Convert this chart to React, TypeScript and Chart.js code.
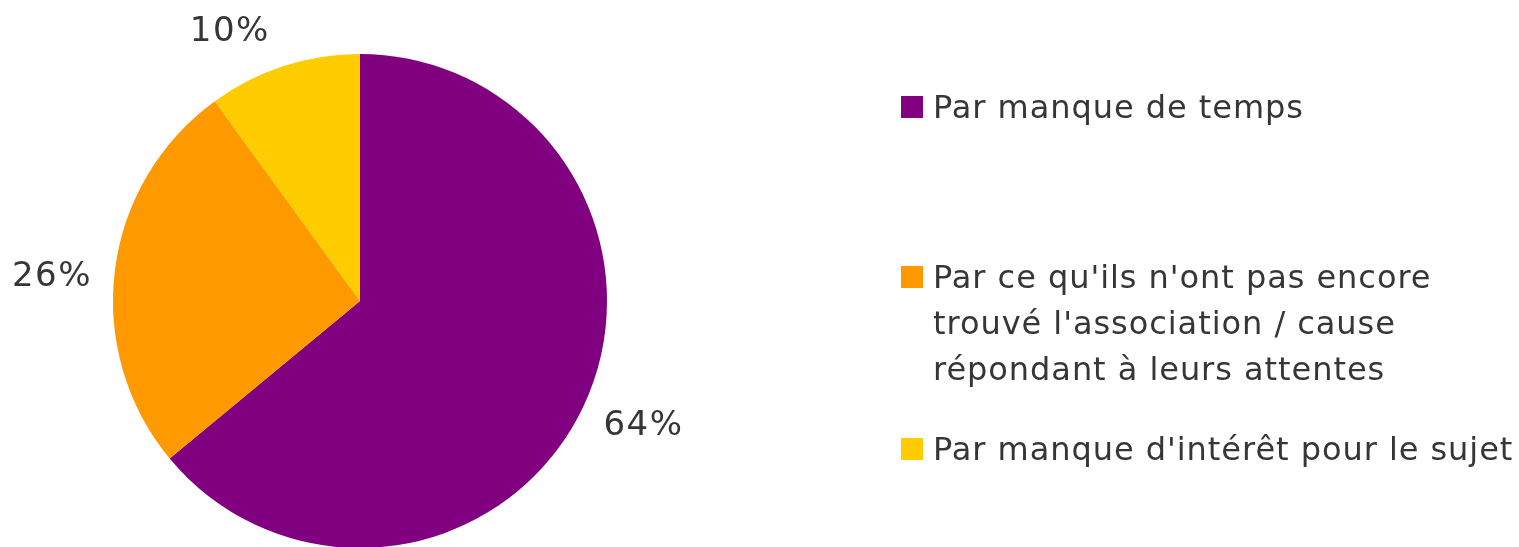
import React, { useEffect, useRef } from "react";
import { Chart, registerables } from "chart.js";

Chart.register(...registerables);

const categories: string[][] = [
  ["Par manque de temps"],
  ["Par ce qu'ils n'ont pas encore", "trouvé l'association / cause", "répondant à leurs attentes"],
  ["Par manque d'intérêt pour le sujet"],
];
const values: number[] = [64, 26, 10];
const percentLabels: string[] = ["64%", "26%", "10%"];
const colors: string[] = ["#800080", "#FF9900", "#FFCC00"];

const FONT = "'DejaVu Sans', Verdana, sans-serif";
const TEXT_COLOR = "#363636";

// label placement style: [angle nudge in degrees, radial gap beyond the arc in px]
const labelPlacement: [number, number][] = [
  [-1.3, 63],
  [-2.7, 62],
  [-7.8, 52],
];

const outsideLabels = {
  id: "outsideLabels",
  afterDatasetsDraw(chart: any) {
    const ctx = chart.ctx;
    const meta = chart.getDatasetMeta(0);
    ctx.save();
    ctx.font = `34px ${FONT}`;
    try {
      (ctx as any).letterSpacing = "1.5px";
    } catch (e) {}
    ctx.fillStyle = TEXT_COLOR;
    ctx.textAlign = "center";
    ctx.textBaseline = "middle";
    meta.data.forEach((arc: any, i: number) => {
      const { x, y, startAngle, endAngle, outerRadius } = arc.getProps(
        ["x", "y", "startAngle", "endAngle", "outerRadius"],
        true
      );
      const [nudge, gap] = labelPlacement[i];
      const mid = (startAngle + endAngle) / 2 + (nudge * Math.PI) / 180;
      const d = outerRadius + gap;
      ctx.fillText(percentLabels[i], x + Math.cos(mid) * d, y + Math.sin(mid) * d);
    });
    ctx.restore();
  },
};

export default function App() {
  const ref = useRef<HTMLCanvasElement | null>(null);
  useEffect(() => {
    document.body.style.overflow = "hidden";
    if (!ref.current) return;
    const chart = new Chart(ref.current, {
      type: "pie",
      data: {
        labels: categories,
        datasets: [
          {
            data: values,
            backgroundColor: colors,
            borderWidth: 0,
          },
        ],
      },
      options: {
        animation: false,
        responsive: false,
        layout: { padding: { left: 113, right: 912, top: 54, bottom: 12 } },
        plugins: {
          legend: { display: false },
          tooltip: { enabled: false },
        },
      },
      plugins: [outsideLabels],
    });
    return () => chart.destroy();
  }, []);

  const legendTops = [84, 254, 426];
  return (
    <div
      style={{
        position: "fixed",
        left: 0,
        top: 0,
        width: 1519,
        height: 547,
        overflow: "hidden",
        background: "#fff",
      }}
    >
      <canvas ref={ref} width={1519} height={560} style={{ display: "block" }} />
      {categories.map((lines, i) => (
        <div
          key={i}
          style={{
            position: "absolute",
            left: 901,
            top: legendTops[i],
            fontFamily: FONT,
            fontSize: 32,
            letterSpacing: "0.95px",
            lineHeight: "46px",
            color: TEXT_COLOR,
            whiteSpace: "nowrap",
          }}
        >
          <span
            style={{
              position: "absolute",
              left: 0,
              top: 12,
              width: 22,
              height: 22,
              background: colors[i],
            }}
          />
          <div style={{ marginLeft: 32 }}>
            {lines.map((l, j) => (
              <div key={j}>{l}</div>
            ))}
          </div>
        </div>
      ))}
    </div>
  );
}
